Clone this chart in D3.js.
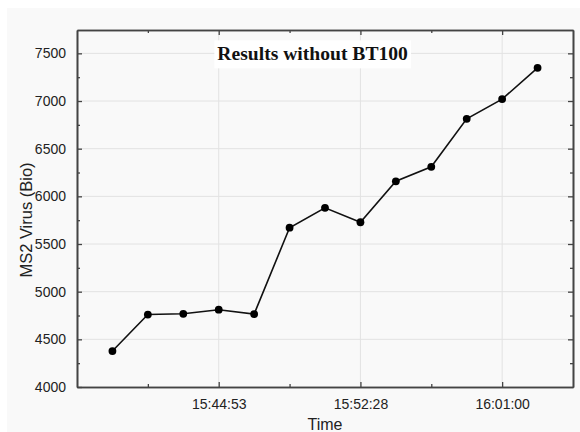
<!DOCTYPE html>
<html>
<head>
<meta charset="utf-8">
<title>Results without BT100</title>
<style>
  body { margin: 0; background: #fff; }
  svg { display: block; }
  .tick text { font-family: "Liberation Sans", Arial, sans-serif; font-size: 14px; fill: #222; }
</style>
</head>
<body>
<script src="https://d3js.org/d3.v7.min.js"></script>
<script>
    // Sample index along the x axis (13 readings) and measured values
    var sampleIndex = [0, 1, 2, 3, 4, 5, 6, 7, 8, 9, 10, 11, 12];
    var virusValues = [4377, 4760, 4768, 4811, 4765, 5671, 5880, 5728, 6158, 6310, 6813, 7020, 7348];

    // Labelled time ticks sit on these sample positions
    var timeTickPos = [3, 7, 11];
    var timeTickLabels = ["15:44:53", "15:52:28", "16:01:00"];
    var timeMinorPos = [1, 5, 9];

    var yTicks = [4000, 4500, 5000, 5500, 6000, 6500, 7000, 7500];
    var yMinor = [4250, 4750, 5250, 5750, 6250, 6750, 7250];

    var W = 580, H = 432;
    var margin = {top: 30, right: 7, bottom: 45, left: 77};
    var width = W - margin.left - margin.right,
        height = H - margin.top - margin.bottom;

    var svg = d3.select("body").append("svg")
        .attr("width", W)
        .attr("height", H);

    // light grey page panel
    svg.append("rect")
        .attr("x", 7).attr("y", 8)
        .attr("width", W - 7).attr("height", H - 8)
        .attr("fill", "#f9f9f9");

    var g = svg.append("g")
        .attr("transform", "translate(" + margin.left + "," + margin.top + ")");

    var x = d3.scaleLinear().domain([-1, 13]).range([0, width]);
    var y = d3.scaleLinear().domain([4000, 7745]).range([height, 0]);

    // grid
    g.append("g").selectAll("line")
        .data(yTicks.slice(1))
        .enter().append("line")
        .attr("x1", 0).attr("x2", width)
        .attr("y1", function(d) { return y(d); })
        .attr("y2", function(d) { return y(d); })
        .attr("stroke", "#e2e2e2").attr("stroke-width", 1);
    g.append("g").selectAll("line")
        .data(timeTickPos)
        .enter().append("line")
        .attr("y1", 0).attr("y2", height)
        .attr("x1", function(d) { return x(d); })
        .attr("x2", function(d) { return x(d); })
        .attr("stroke", "#e2e2e2").attr("stroke-width", 1);

    // axes (ticks point inward)
    var bottomAxis = d3.axisBottom(x)
        .tickValues(timeTickPos)
        .tickFormat(function(d, i) { return timeTickLabels[i]; })
        .tickSizeInner(-5).tickSizeOuter(0).tickPadding(12);
    var leftAxis = d3.axisLeft(y)
        .tickValues(yTicks)
        .tickFormat(d3.format("d"))
        .tickSizeInner(-5).tickSizeOuter(0).tickPadding(11);

    var xa = g.append("g").attr("transform", "translate(0," + height + ")").call(bottomAxis);
    var ya = g.append("g").call(leftAxis);
    var xt = g.append("g").call(d3.axisTop(x).tickValues(timeTickPos).tickSize(-5).tickSizeOuter(0).tickFormat(""));
    var yr = g.append("g").attr("transform", "translate(" + width + ",0)")
        .call(d3.axisRight(y).tickValues(yTicks.slice(1)).tickSize(-5).tickSizeOuter(0).tickFormat(""));

    // minor ticks
    xa.append("g").call(d3.axisBottom(x).tickValues(timeMinorPos).tickSize(-3).tickSizeOuter(0).tickFormat(""));
    xt.append("g").call(d3.axisTop(x).tickValues(timeMinorPos).tickSize(-3).tickSizeOuter(0).tickFormat(""));
    ya.append("g").call(d3.axisLeft(y).tickValues(yMinor).tickSize(-3).tickSizeOuter(0).tickFormat(""));
    yr.append("g").call(d3.axisRight(y).tickValues(yMinor).tickSize(-3).tickSizeOuter(0).tickFormat(""));

    g.selectAll(".domain").attr("stroke", "#444").attr("stroke-width", 1.6);
    g.selectAll(".tick line").attr("stroke", "#444").attr("stroke-width", 1.3);

    // axis titles
    svg.append("text")
        .attr("transform", "translate(32,220) rotate(-90)")
        .attr("text-anchor", "middle")
        .style("font-family", "Liberation Sans, Arial, sans-serif")
        .style("font-size", "16.5px").attr("fill", "#222")
        .text("MS2 Virus (Bio)");
    svg.append("text")
        .attr("x", margin.left + width / 2).attr("y", 430)
        .attr("text-anchor", "middle")
        .style("font-family", "Liberation Sans, Arial, sans-serif")
        .style("font-size", "16px").attr("fill", "#222")
        .text("Time");

    // title with white box
    var title = g.append("g");
    var tt = title.append("text")
        .attr("x", x(5.65)).attr("y", y(7500) + 7)
        .attr("text-anchor", "middle")
        .style("font-family", "Liberation Serif, Times New Roman, serif")
        .style("font-weight", "bold")
        .style("font-size", "19.6px").attr("fill", "#111")
        .text("Results without BT100");
    var bb = tt.node().getBBox();
    title.insert("rect", "text")
        .attr("x", bb.x - 3).attr("y", bb.y - 3)
        .attr("width", bb.width + 6).attr("height", bb.height + 7)
        .attr("fill", "#fff");

    // data line + markers
    var pts = sampleIndex.map(function(d, i) { return [d, virusValues[i]]; });
    var line = d3.line()
        .x(function(d) { return x(d[0]); })
        .y(function(d) { return y(d[1]); });

    g.append("path")
        .datum(pts)
        .attr("d", line)
        .attr("fill", "none")
        .attr("stroke", "#111")
        .attr("stroke-width", 1.6);

    g.selectAll(".dot")
        .data(pts)
        .enter().append("circle")
        .attr("class", "dot")
        .attr("cx", function(d) { return x(d[0]); })
        .attr("cy", function(d) { return y(d[1]); })
        .attr("r", 3.9)
        .attr("fill", "#000");
</script>
</body>
</html>
